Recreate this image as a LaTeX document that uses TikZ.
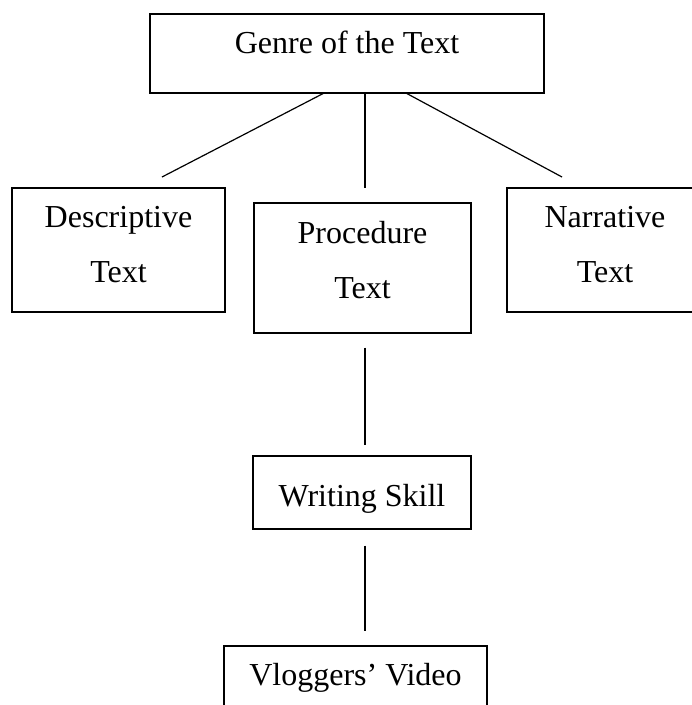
\documentclass[tikz,border=0pt]{standalone}
\usepackage{fontspec}
\setmainfont{Liberation Serif}
\usepackage{tikz}

\begin{document}
\begin{tikzpicture}[x=1pt,y=-1pt,
		box/.style={draw, line width=1.2pt, inner sep=0pt, align=center,
			font=\fontsize{32}{55}\selectfont},
		link/.style={line width=1.2pt}]
				
				\useasboundingbox (0,0) rectangle (692,705);
				\node[box, minimum width=394pt, minimum height=79pt, text height=20pt, text depth=20pt] (genre) at (347,53.5) {Genre of the Text};
				\node[box, minimum width=213pt, minimum height=124pt, text height=80pt, text depth=16pt] (desc) at (118.5,250) {Descriptive\\Text};
				\node[box, minimum width=217pt, minimum height=130pt, text height=80pt, text depth=20pt] (proc) at (362.5,268) {Procedure\\Text};
				\node[box, minimum width=196pt, minimum height=124pt, text height=80pt, text depth=16pt] (narr) at (605,250) {Narrative\\Text};
				\node[box, minimum width=218pt, minimum height=73pt, text height=34pt, text depth=5.6pt] (skill) at (362,492.5) {Writing Skill};
				\node[box, minimum width=263pt, minimum height=74pt, text height=22pt, text depth=18pt] (vlog) at (355.5,683) {Vloggers' Video};
				\coordinate (descEnd) at (162,177);
				\coordinate (procEnd) at (365,188);
				\coordinate (narrEnd) at (562,177);
				\draw[link] ([xshift=-24pt]genre.south) -- (descEnd);
				\draw[link] ([xshift=18pt]genre.south) -- (procEnd);
				\draw[link] ([xshift=60pt]genre.south) -- (narrEnd);
				\draw[link] ([xshift=2.5pt,yshift=-14pt]proc.south) -- ([xshift=3pt,yshift=10pt]skill.north);
				\draw[link] ([xshift=3pt,yshift=-16pt]skill.south) -- ([xshift=9.5pt,yshift=14pt]vlog.north);
			\end{tikzpicture}
\end{document}
